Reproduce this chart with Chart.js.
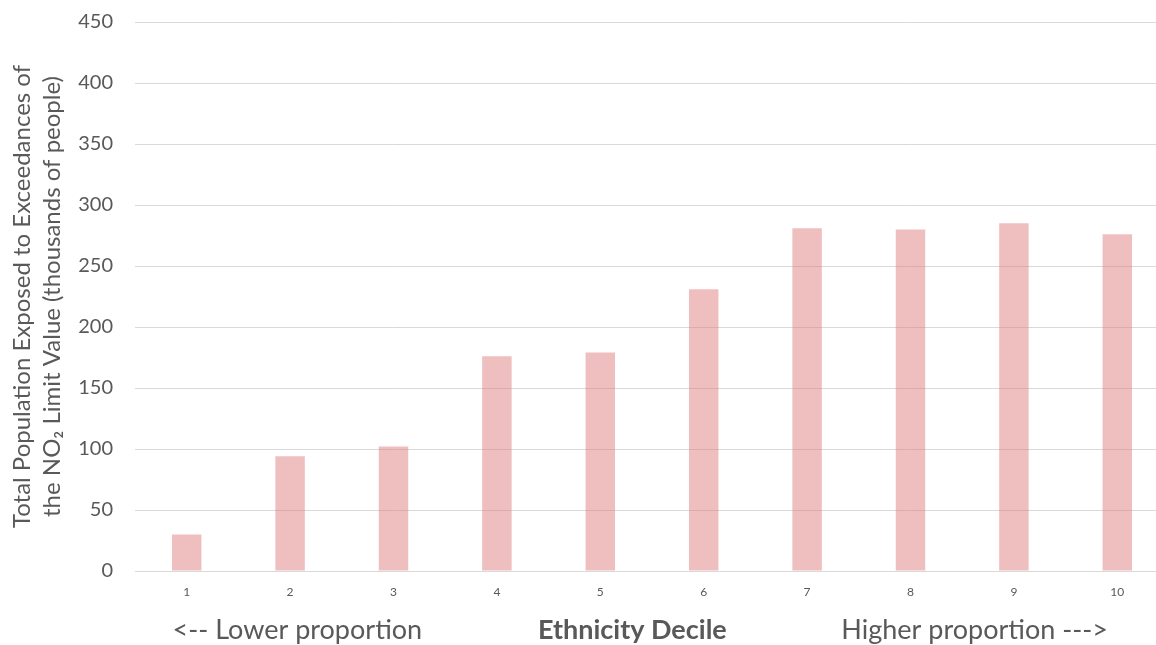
<!DOCTYPE html>
<html>
<head>
<meta charset="utf-8">
<script src="https://cdn.jsdelivr.net/npm/chart.js@4"></script>
<style>
  html, body { margin: 0; padding: 0; background: #fff; overflow: hidden; }
  #wrap { width: 1169px; height: 657px; margin-top: -12px; }
</style>
</head>
<body>
<div id="wrap"><canvas id="chart"></canvas></div>
<script>
// data
var deciles = ['1', '2', '3', '4', '5', '6', '7', '8', '9', '10'];
var exposed = [30, 94, 102, 176, 179, 231, 281, 280, 285, 276];
var yTitle = ['Total Population Exposed to Exceedances of', 'the NO\u2082 Limit Value (thousands of people)'];
var bottomLabels = ['<-- Lower proportion', 'Ethnicity Decile', 'Higher proportion --->'];

var textColor = '#595959';

// the three captions under the x axis
function drawBottomLabels(chart) {
  var ctx = chart.ctx;
  var area = chart.chartArea;
  var w = area.right - area.left;
  var y = area.bottom + 59;
  ctx.save();
  ctx.fillStyle = textColor;
  ctx.textAlign = 'center';
  ctx.textBaseline = 'middle';
  ctx.font = '27px Lato';
  ctx.fillText(bottomLabels[0], area.left + w * 0.157, y);
  ctx.fillText(bottomLabels[2], area.left + w * 0.812, y);
  ctx.font = 'bold 27px Lato';
  ctx.fillText(bottomLabels[1], area.left + w * 0.481, y);
  ctx.restore();
}

var ctx = document.getElementById('chart').getContext('2d');
var chart = new Chart(ctx, {
  type: 'bar',
  data: {
    labels: deciles,
    datasets: [{
      data: exposed,
      backgroundColor: 'rgba(224, 128, 130, 0.5)',
      borderWidth: 0,
      categoryPercentage: 1,
      barPercentage: 0.285
    }]
  },
  options: {
    responsive: true,
    maintainAspectRatio: false,
    animation: false,
    layout: { padding: 0 },
    plugins: {
      legend: { display: false },
      tooltip: { enabled: false }
    },
    scales: {
      x: {
        grid: { display: false, drawTicks: false },
        border: { display: true, color: '#d9d9d9', width: 1 },
        ticks: { color: textColor, font: { family: 'Lato', size: 12 }, padding: 14 },
        afterFit: function(s) { s.height = 74; }
      },
      y: {
        min: 0,
        max: 450,
        grid: { color: '#d9d9d9', drawTicks: false, lineWidth: 1 },
        border: { display: false },
        ticks: { stepSize: 50, color: textColor, font: { family: 'Lato', size: 20 }, padding: 22 },
        title: {
          display: true,
          text: yTitle,
          color: textColor,
          font: { family: 'Lato', size: 24, lineHeight: 1.25 },
          padding: { top: 7, bottom: 0 }
        },
        afterFit: function(s) { s.width = 135; }
      }
    }
  },
  plugins: [{
    afterDraw: drawBottomLabels
  }]
});
</script>
</body>
</html>
